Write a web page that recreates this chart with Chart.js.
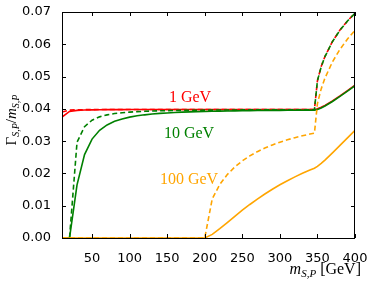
<!DOCTYPE html>
<html><head><meta charset="utf-8">
<script src="https://cdn.jsdelivr.net/npm/chart.js@4/dist/chart.umd.min.js"></script>
<style>html,body{margin:0;padding:0;background:#fff}</style>
</head><body>
<canvas id="c" width="374" height="283" style="width:374px;height:283px;display:block"></canvas>
<script>
// mediator mass m_{S,P} [GeV]
const mass = [10,20,30,40,50,60,70,80,90,100,110,120,130,140,150,160,170,180,190,200,210,220,230,240,250,260,270,280,290,300,310,320,330,340,346,350,355,360,370,380,390,400];
// 1 GeV
const red1Solid  = [0.03744,0.03920,0.03953,0.03965,0.03970,0.03973,0.03975,0.03977,0.03977,0.03978,0.03979,0.03979,0.03979,0.03979,0.0398,0.0398,0.0398,0.0398,0.0398,0.0398,0.0398,0.0398,0.0398,0.0398,0.0398,0.0398,0.0398,0.0398,0.0398,0.0398,0.0398,0.0398,0.0398,0.0398,0.0398,0.04000,0.04047,0.04105,0.04245,0.04400,0.04565,0.04732];
const red1Dashed = [0.0390,0.0396,0.03971,0.03975,0.03977,0.03978,0.03978,0.03979,0.03979,0.0398,0.0398,0.0398,0.0398,0.0398,0.0398,0.0398,0.0398,0.0398,0.0398,0.0398,0.0398,0.0398,0.0398,0.0398,0.0398,0.0398,0.0398,0.0398,0.0398,0.0398,0.0398,0.0398,0.0398,0.0398,0.0398,0.04877,0.05311,0.05623,0.06088,0.06440,0.06725,0.06966];
// 10 GeV
const green10Solid  = [0,0,0.01648,0.02585,0.03064,0.03336,0.03503,0.03613,0.03689,0.03744,0.03784,0.03815,0.03840,0.03859,0.03874,0.03888,0.03898,0.03907,0.03914,0.03920,0.03926,0.03931,0.03935,0.03939,0.03942,0.03945,0.03947,0.03950,0.03952,0.03953,0.03955,0.03957,0.03958,0.03959,0.03960,0.03981,0.04029,0.04087,0.04228,0.04384,0.04550,0.04717];
const green10Dashed = [0,0,0.02967,0.03447,0.03648,0.03752,0.03814,0.03854,0.03880,0.03900,0.03914,0.03924,0.03933,0.03939,0.03945,0.03949,0.03952,0.03955,0.03958,0.03960,0.03962,0.03964,0.03965,0.03966,0.03967,0.03968,0.03969,0.03970,0.03970,0.03971,0.03971,0.03972,0.03972,0.03973,0.03973,0.04871,0.05305,0.05617,0.06083,0.06435,0.06720,0.06961];
// 100 GeV
const orange100Solid  = [0,0,0,0,0,0,0,0,0,0,0,0,0,0,0,0,0,0,0,0,0.00113,0.00288,0.00479,0.00672,0.00860,0.01038,0.01207,0.01364,0.01511,0.01648,0.01775,0.01893,0.02003,0.02105,0.02163,0.02220,0.02312,0.02413,0.02635,0.02867,0.03103,0.03337];
const orange100Dashed = [0,0,0,0,0,0,0,0,0,0,0,0,0,0,0,0,0,0,0,0,0.01214,0.01658,0.01965,0.02200,0.02388,0.02543,0.02674,0.02786,0.02882,0.02967,0.03041,0.03107,0.03166,0.03219,0.03248,0.04163,0.04619,0.04952,0.05456,0.05844,0.06162,0.06433];
const xTicks = [50,100,150,200,250,300,350,400];
const yTicks = [0,0.01,0.02,0.03,0.04,0.05,0.06,0.07];
const curveLabels = ['1 GeV','10 GeV','100 GeV'];

const RED='#ff0000', GREEN='#008000', ORANGE='#ffa500';
const pts = arr => arr.map((v,i)=>({x:mass[i], y:v}));
function ds(arr,color,dashed,order){
  return {data:pts(arr),borderColor:color,borderWidth:1.6,borderDash:dashed?[5,3]:[],pointRadius:0,fill:false,tension:0,order:order};
}

function drawRuns(ctx, runs, x, y, align){
  let w=0;
  runs.forEach(r=>{ctx.font=r.f; r.w=ctx.measureText(r.t).width; w+=r.w;});
  let cx = align==='right'? x-w : (align==='center'? x-w/2 : x);
  ctx.textBaseline='alphabetic'; ctx.textAlign='left';
  runs.forEach(r=>{ctx.font=r.f; ctx.fillText(r.t,cx,y+(r.dy||0)); cx+=r.w;});
}

const decor = {
  id:'decor',
  afterDatasetsDraw(chart){
    const {ctx, chartArea:a, scales:{x,y}} = chart;
    ctx.save();
    ctx.strokeStyle='#000'; ctx.lineWidth=1;
    ctx.strokeRect(Math.round(a.left)+0.5, Math.round(a.top)+0.5, Math.round(a.right-a.left)-1, Math.round(a.bottom-a.top));
    ctx.beginPath();
    xTicks.forEach(t=>{const px=Math.round(x.getPixelForValue(t))+0.5;
      ctx.moveTo(px,a.bottom); ctx.lineTo(px,a.bottom-4);
      ctx.moveTo(px,a.top); ctx.lineTo(px,a.top+4);});
    yTicks.forEach(t=>{const py=Math.round(y.getPixelForValue(t))+0.5;
      ctx.moveTo(a.left,py); ctx.lineTo(a.left+4,py);
      ctx.moveTo(a.right,py); ctx.lineTo(a.right-4,py);});
    ctx.stroke();
    // curve labels
    ctx.textAlign='center'; ctx.textBaseline='middle';
    ctx.font='16px "Liberation Serif"';
    ctx.fillStyle=RED; ctx.fillText(curveLabels[0],190,98);
    ctx.fillStyle=GREEN; ctx.fillText(curveLabels[1],189,134);
    ctx.fillStyle=ORANGE; ctx.fillText(curveLabels[2],189,180);
    // axis titles
    ctx.fillStyle='#000';
    drawRuns(ctx,[{t:'m',f:'italic 16px "Liberation Serif"'},{t:'S,P',f:'italic 11px "Liberation Serif"',dy:3},{t:' [GeV]',f:'16px "Liberation Serif"'}],361,274,'right');
    ctx.translate(16,120); ctx.rotate(-Math.PI/2);
    drawRuns(ctx,[{t:'Γ',f:'15px "Liberation Serif"'},{t:'S,P',f:'italic 10px "Liberation Serif"',dy:3},{t:'/',f:'15px "Liberation Serif"'},{t:'m',f:'italic 15px "Liberation Serif"'},{t:'S,P',f:'italic 10px "Liberation Serif"',dy:3}],0,0,'center');
    ctx.restore();
  }
};

new Chart(document.getElementById('c'),{
  type:'line',
  data:{datasets:[
    ds(orange100Solid,ORANGE,false,1), ds(orange100Dashed,ORANGE,true,1),
    ds(green10Solid,GREEN,false,2), ds(green10Dashed,GREEN,true,2),
    ds(red1Solid,RED,false,3), ds(red1Dashed,RED,true,3)
  ]},
  options:{
    responsive:false, animation:false, devicePixelRatio:1,
    layout:{padding:{top:12,right:19,left:0,bottom:0}},
    plugins:{legend:{display:false},tooltip:{enabled:false}},
    scales:{
      x:{type:'linear',min:10,max:400,
        afterBuildTicks:s=>{s.ticks=xTicks.map(v=>({value:v}));},
        afterFit:s=>{s.height=45;},
        grid:{display:false},border:{display:false},
        ticks:{padding:5,color:'#000',font:{family:'"DejaVu Sans"',size:13},maxRotation:0,callback:v=>String(v)}},
      y:{type:'linear',min:0,max:0.07,
        afterBuildTicks:s=>{s.ticks=yTicks.map(v=>({value:v}));},
        afterFit:s=>{s.width=62;},
        grid:{display:false},border:{display:false},
        ticks:{padding:3,color:'#000',font:{family:'"DejaVu Sans"',size:13},callback:v=>v.toFixed(2)}}
    }
  },
  plugins:[decor]
});
</script>
</body></html>
